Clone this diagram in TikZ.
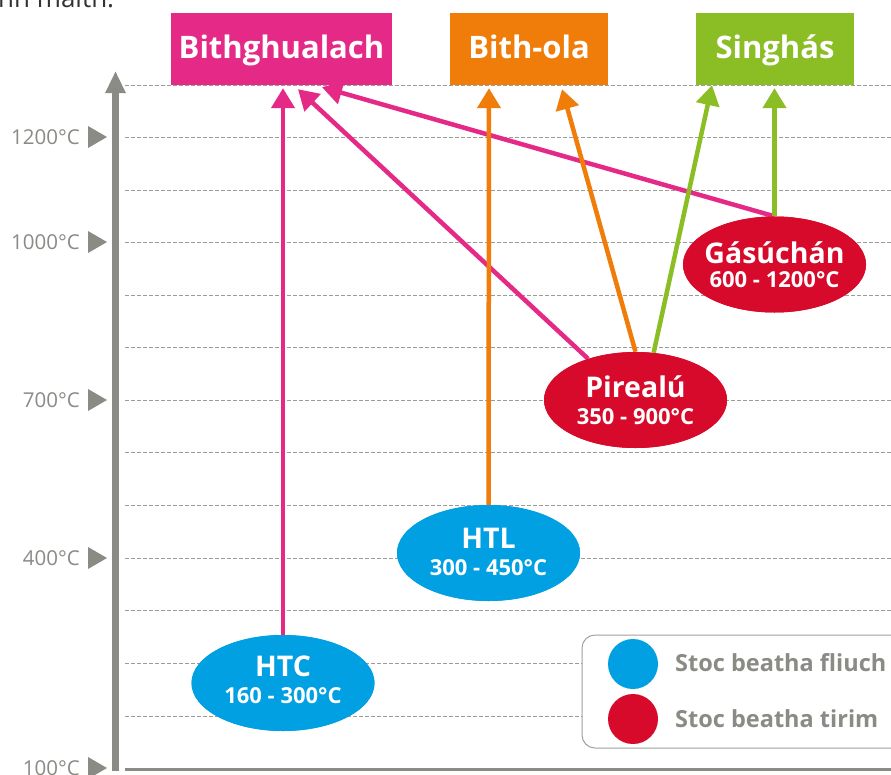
\documentclass[tikz,border=0pt]{standalone}
\usepackage{fontspec}
\setmainfont{Open Sans}
\usetikzlibrary{arrows.meta,shapes.geometric,calc}
\definecolor{cpink}{RGB}{229,41,134}
\definecolor{corange}{RGB}{240,124,10}
\definecolor{cgreen}{RGB}{139,190,37}
\definecolor{cblue}{RGB}{0,160,227}
\definecolor{cred}{RGB}{215,10,43}
\definecolor{cgray}{RGB}{138,139,133}
\begin{document}
\begin{tikzpicture}[x=1pt,y=-1pt,
  gridline/.style={draw=cgray!85, line width=0.8pt, dash pattern=on 4pt off 2pt},
  catbox/.style={rectangle, inner sep=0pt, minimum height=72pt, text height=22pt, text depth=4pt,
    text=white, font=\fontsize{31}{33}\selectfont\bfseries},
  proc/.style={ellipse, inner sep=0pt, minimum width=183pt, minimum height=96pt},
  pname/.style={anchor=base, text=white, font=\fontsize{28.5}{30}\selectfont\bfseries},
  prange/.style={anchor=base, text=white, font=\fontsize{22}{24}\selectfont\bfseries},
  link/.style={line width=4.5pt, -{Triangle[width=23pt,length=20pt]}},
  ticklabel/.style={anchor=east, inner sep=0pt, text=cgray, font=\fontsize{20.5}{24}\selectfont},
  tickmark/.style={fill=cgray},
  legtext/.style={anchor=west, inner sep=0pt, text=cgray, font=\fontsize{23.5}{26}\selectfont\bfseries}
]
\clip (0,0) rectangle (891,774);
\fill[white] (0,0) rectangle (891,774);

% cropped heading text
\node[anchor=base west, inner sep=0pt, text=black!80, font=\fontsize{26}{30}\selectfont] (head) at (-2,7) {nn maith.};

% grid
\foreach \yy in {85,137,190,242,295,347,400,452,505,558,610,663,716}
  \draw[gridline] (125,\yy) -- (891,\yy);

% axes
\draw[cgray, line width=3pt] (125,769.5) -- (891,769.5);
\draw[cgray, line width=7pt, -{Triangle[width=19pt,length=22pt]}] (115.5,771) -- (115.5,71);

% ticks
\foreach \yy/\lab in {137/1200,242/1000,400/700,558/400,768/100}{
  \fill[tickmark] (88,\yy-11) -- (107,\yy) -- (88,\yy+11) -- cycle;
  \node[ticklabel] at (80,\yy) {\lab°C};
}

% category boxes
\node[catbox, fill=cpink, minimum width=221pt] (bio) at (281.5,49) {Bithghualach};
\node[catbox, fill=corange, minimum width=158pt] (oil) at (529,49) {Bith-ola};
\node[catbox, fill=cgreen, minimum width=158pt] (gas) at (775,49) {Singhás};

% arrow tips
\coordinate (b1) at ($(bio.south)+(1.5,3)$);
\coordinate (b2) at ($(bio.south)+(16.5,4)$);
\coordinate (b3) at ($(bio.south)+(40.5,2)$);
\coordinate (o1) at ($(oil.south)+(-40,3)$);
\coordinate (o2) at ($(oil.south)+(33,4)$);
\coordinate (g1) at ($(gas.south)+(-63,0)$);
\coordinate (g2) at ($(gas.south)+(-0.5,3)$);

% process ellipses
\node[proc, fill=cblue] (htc) at (283,683) {};
\node[proc, fill=cblue] (htl) at (488.5,553) {};
\node[proc, fill=cred] (pyr) at (635.5,400) {};
\node[proc, fill=cred] (gsf) at (774.5,264.5) {};

% connectors
\draw[link, cpink] (htc.north) -- (b1);
\draw[link, cpink] (pyr.139) -- (b2);
\draw[link, cpink] (gsf.north) -- (b3);
\draw[link, corange] (htl.north) -- (o1);
\draw[link, corange] (pyr.north) -- (o2);
\draw[link, cgreen] (pyr.69) -- (g1);
\draw[link, cgreen] (gsf.north) -- (g2);

% ellipses on top of the connector ends
\node[proc, fill=cblue] at (htc) {};
\node[proc, fill=cblue] at (htl) {};
\node[proc, fill=cred] at (pyr) {};
\node[proc, fill=cred] at (gsf) {};

% ellipse texts
\node[pname] (htcn) at ($(htc)+(0,-7)$) {HTC};
\node[prange] (htcr) at ($(htc)+(0,20)$) {160 - 300°C};
\node[pname] (htln) at ($(htl)+(0,-5)$) {HTL};
\node[prange] (htlr) at ($(htl)+(0,22)$) {300 - 450°C};
\node[pname] (pyrn) at ($(pyr)+(0,-3)$) {Pirealú};
\node[prange] (pyrr) at ($(pyr)+(0,24)$) {350 - 900°C};
\node[pname] (gsfn) at ($(gsf)+(0,-1.5)$) {Gásúchán};
\node[prange] (gsfr) at ($(gsf)+(0,23)$) {600 - 1200°C};

% legend
\draw[cgray!80, line width=1pt, fill=white, rounded corners=13pt] (582,635) rectangle (905,748);
\node[circle, fill=cblue, minimum size=50pt, inner sep=0pt] (lw) at (633,664) {};
\node[circle, fill=cred, minimum size=50pt, inner sep=0pt] (ld) at (633,719) {};
\node[legtext] (lwt) at (675,663) {Stoc beatha fliuch};
\node[legtext] (ldt) at (675,719) {Stoc beatha tirim};
\end{tikzpicture}
\end{document}
